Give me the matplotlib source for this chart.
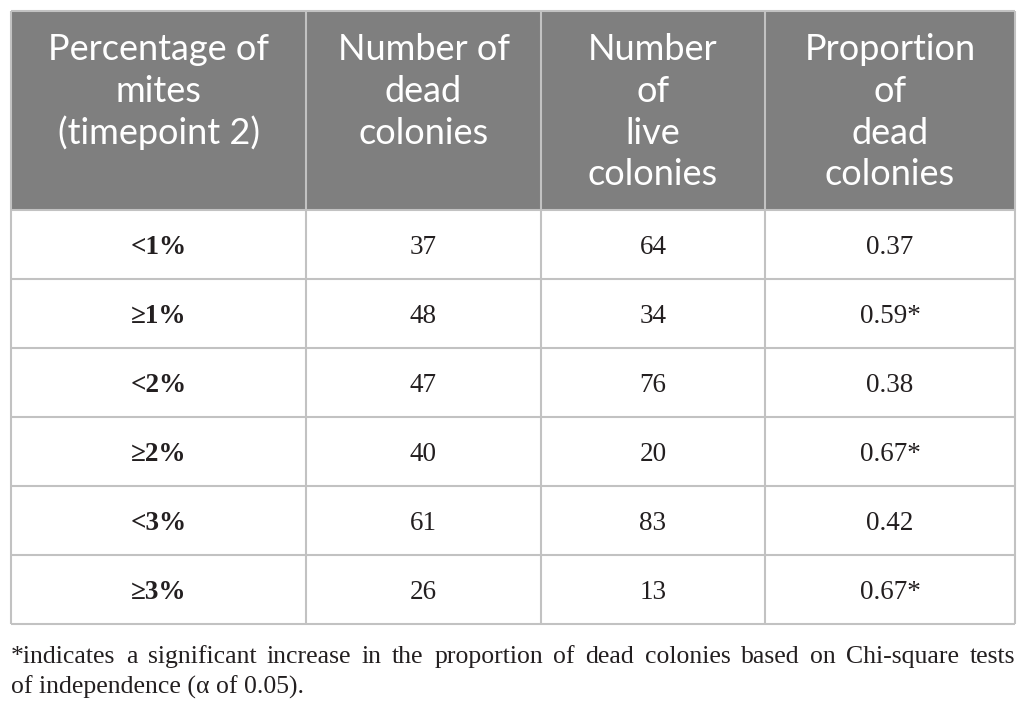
import matplotlib.pyplot as plt

headers = [
    ['Percentage of', 'mites', '(timepoint 2)'],
    ['Number of', 'dead', 'colonies'],
    ['Number', 'of', 'live', 'colonies'],
    ['Proportion', 'of', 'dead', 'colonies'],
]
mite_levels = ['<1%', '≥1%', '<2%', '≥2%', '<3%', '≥3%']
dead_colonies = [37, 48, 47, 40, 61, 26]
live_colonies = [64, 34, 76, 20, 83, 13]
proportion_dead = ['0.37', '0.59*', '0.38', '0.67*', '0.42', '0.67*']
footnote = ['*indicates a significant increase in the proportion of dead colonies based on Chi-square tests',
            'of independence (α of 0.05).']

W, H = 1026, 714
col_x = [11, 306, 541, 765, 1015]
head_top, head_bot = 11, 210
row_h = 69

fig = plt.figure(figsize=(W / 100, H / 100), dpi=100)
ax = fig.add_axes([0, 0, 1, 1])
ax.set_xlim(0, W)
ax.set_ylim(H, 0)
ax.axis('off')

grid = '#c2c2c2'
head_bg = '#7f7f7f'
ink = '#231f20'

# header block
ax.add_patch(plt.Rectangle((col_x[0], head_top), col_x[-1] - col_x[0], head_bot - head_top,
                           facecolor=head_bg, edgecolor='none'))
for i, lines in enumerate(headers):
    cx = (col_x[i] + col_x[i + 1]) / 2
    for j, t in enumerate(lines):
        ax.text(cx, 50 + j * 41.5, t, ha='center', va='center', color='white',
                fontsize=26, family='Lato')

# body rows
n = len(mite_levels)
table_bot = head_bot + n * row_h
for r in range(n):
    cy = head_bot + (r + 0.5) * row_h
    vals = [mite_levels[r], str(dead_colonies[r]), str(live_colonies[r]), proportion_dead[r]]
    for i, v in enumerate(vals):
        cx = (col_x[i] + col_x[i + 1]) / 2
        ax.text(cx, cy + 3, v, ha='center', va='center', color=ink, fontsize=19.5,
                family='Liberation Serif', fontweight='bold' if i == 0 else 'normal')

# grid lines
for r in range(n + 1):
    y = head_bot + r * row_h
    ax.plot([col_x[0], col_x[-1]], [y, y], color=grid, lw=1.5, solid_capstyle='butt')
for x in col_x:
    ax.plot([x, x], [head_top, table_bot], color=grid, lw=1.5, solid_capstyle='butt')
ax.plot([col_x[0], col_x[-1]], [head_top, head_top], color=grid, lw=1.5, solid_capstyle='butt')

# footnote: first line justified to the table width, second line left aligned
fn_size = 18.5
words = footnote[0].split(' ')
fig.canvas.draw()
rend = fig.canvas.get_renderer()
word_txt = [ax.text(0, 663, w_, ha='left', va='baseline', fontsize=fn_size,
                    family='Liberation Serif', color=ink) for w_ in words]
widths = [t.get_window_extent(renderer=rend).width for t in word_txt]
gap = ((col_x[-1] - col_x[0]) - sum(widths)) / (len(words) - 1)
x = col_x[0]
for t, wd in zip(word_txt, widths):
    t.set_x(x)
    x += wd + gap
ax.text(col_x[0], 694, footnote[1], ha='left', va='baseline', fontsize=fn_size,
        family='Liberation Serif', color=ink)

fig.savefig('out.png', dpi=100)
